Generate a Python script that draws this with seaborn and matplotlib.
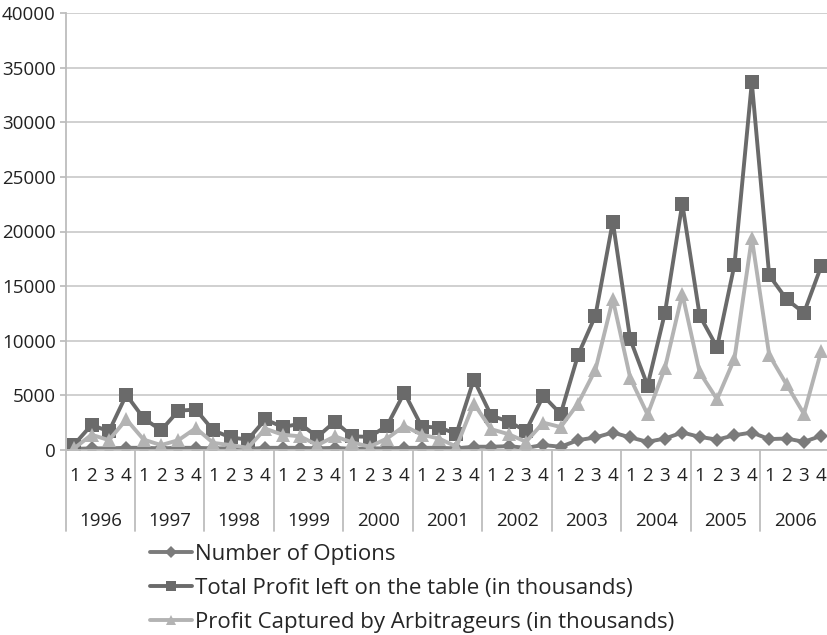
import matplotlib
matplotlib.use("Agg")
import matplotlib.pyplot as plt
import matplotlib.transforms as mtransforms
from matplotlib.lines import Line2D
import numpy as np
import pandas as pd
import seaborn as sns

years = ["1996", "1997", "1998", "1999", "2000", "2001",
         "2002", "2003", "2004", "2005", "2006"]
quarters = ["1", "2", "3", "4"]

number_of_options = [
    100, 150, 150, 200,
    200, 150, 200, 200,
    150, 150, 100, 200,
    200, 200, 150, 200,
    100, 150, 150, 200,
    200, 200, 150, 300,
    300, 350, 200, 450,
    300, 900, 1150, 1600,
    1150, 750, 1050, 1600,
    1200, 950, 1350, 1600,
    1000, 1050, 750, 1300,
]
total_profit = [
    500, 2300, 1700, 5050,
    2900, 1800, 3600, 3700,
    1800, 1150, 950, 2800,
    2100, 2400, 1200, 2600,
    1250, 1200, 2200, 5250,
    2150, 2050, 1500, 6450,
    3150, 2600, 1750, 4950,
    3300, 8700, 12300, 20900,
    10150, 5900, 12550, 22550,
    12300, 9400, 16950, 33650,
    16000, 13800, 12550, 16850,
]
profit_captured = [
    150, 1400, 900, 2800,
    950, 450, 900, 2000,
    650, 450, 200, 1950,
    1400, 1250, 450, 1250,
    700, 300, 1050, 2200,
    1400, 1050, 300, 4250,
    1900, 1450, 750, 2500,
    2100, 4250, 7350, 13800,
    6600, 3250, 7500, 14300,
    7100, 4650, 8350, 19400,
    8700, 6000, 3300, 9100,
]

series_names = [
    "Number of Options",
    "Total Profit left on the table (in thousands)",
    "Profit Captured by Arbitrageurs (in thousands)",
]
series_values = [number_of_options, total_profit, profit_captured]
series_colors = ["#7b7b7b", "#6a6a6a", "#b3b3b3"]
series_markers = ["D", "s", "^"]
series_msizes = [7.5, 9.5, 10]

sns.set_theme(style="white")
plt.rcParams["font.family"] = ["Open Sans", "DejaVu Sans"]

fig = plt.figure(figsize=(8.28, 6.35), dpi=100)
ax = fig.add_axes([65.5 / 828, 1 - 450 / 635, (830 - 65.5) / 828, 437 / 635])

n = len(years) * len(quarters)
idx = np.arange(n)

handles = []
for name, vals, col, mk, ms in zip(series_names, series_values,
                                   series_colors, series_markers, series_msizes):
    df = pd.DataFrame({"pos": idx, "value": vals})
    sns.lineplot(data=df, x="pos", y="value", ax=ax, color=col, lw=2.8,
                 marker=mk, markersize=ms, markeredgewidth=0,
                 markeredgecolor=col, legend=False)
    handles.append(Line2D([0], [0], color=col, lw=2.8, marker=mk,
                          markersize=ms * 0.75, markeredgewidth=0))

ax.set_xlim(-0.5, n - 0.5)
ax.set_ylim(0, 40000)
ax.set_yticks(np.arange(0, 40001, 5000))
ax.set_yticklabels([str(v) for v in range(0, 40001, 5000)], fontsize=13.5,
                   color="#222222")
ax.yaxis.grid(True, color="#c8c8c8", lw=1.2)
ax.set_axisbelow(True)
ax.tick_params(axis="y", length=4, color="#bbbbbb", pad=3, left=True)
ax.set_xlabel("")
ax.set_ylabel("")

for side in ["top", "right"]:
    ax.spines[side].set_visible(False)
ax.spines["left"].set_color("#bdbdbd")
ax.spines["left"].set_linewidth(1.3)
ax.spines["bottom"].set_color("#bdbdbd")
ax.spines["bottom"].set_linewidth(1.3)

# quarter labels along the axis
ax.set_xticks(idx)
ax.set_xticklabels(quarters * len(years), fontsize=13.5, color="#222222")
ax.tick_params(axis="x", length=0, pad=12)

# year labels and separators below the quarter row
trans = mtransforms.blended_transform_factory(ax.transData, ax.transAxes)
sep_bottom = (450 - 531) / 437
for i, yr in enumerate(years):
    ax.text(i * 4 + 1.5, (450 - 521) / 437, yr, transform=trans,
            ha="center", va="center", fontsize=13.5, color="#222222")
for i in range(len(years) + 1):
    ax.plot([i * 4 - 0.5, i * 4 - 0.5], [0, sep_bottom], transform=trans,
            color="#bdbdbd", lw=1.3, clip_on=False)

fig.legend(handles, series_names, loc="upper left",
           bbox_to_anchor=(150 / 828, 1 - 544 / 635), frameon=False,
           fontsize=16, handlelength=1.9, handletextpad=0.12,
           labelspacing=0.58, borderaxespad=0, borderpad=0)

fig.savefig("out.png", dpi=100, facecolor="white")
